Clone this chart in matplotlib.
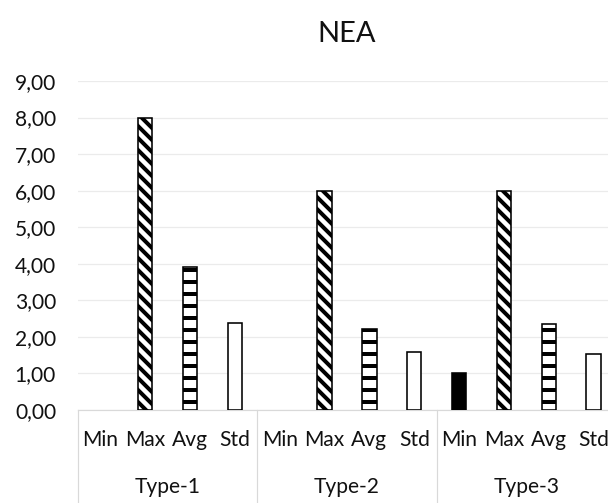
import matplotlib
matplotlib.use("Agg")
import matplotlib.pyplot as plt
from matplotlib.transforms import blended_transform_factory

plt.rcParams['font.family'] = ['Lato', 'DejaVu Sans']
plt.rcParams['hatch.linewidth'] = 4.0

groups = ["Type-1", "Type-2", "Type-3"]
stats = ["Min", "Max", "Avg", "Std"]
values = {
    "Type-1": [0.0, 8.0, 3.92, 2.38],
    "Type-2": [0.0, 6.0, 2.22, 1.58],
    "Type-3": [1.0, 6.0, 2.35, 1.53],
}
yticks = [0, 1, 2, 3, 4, 5, 6, 7, 8, 9]
ytick_labels = ["0,00", "1,00", "2,00", "3,00", "4,00", "5,00", "6,00", "7,00", "8,00", "9,00"]

styles = {
    "Min": dict(facecolor="black", hatch=None),
    "Max": dict(facecolor="white", hatch="\\\\"),
    "Avg": dict(facecolor="white", hatch="-"),
    "Std": dict(facecolor="white", hatch=None),
}

W, H, DPI = 608, 503, 72
fig = plt.figure(figsize=(W / DPI, H / DPI), dpi=DPI)
ax = fig.add_axes([78 / W, 1 - 410 / H, (616 - 78) / W, (410 - 81) / H])

xs, labels = [], []
i = 0
for g in groups:
    for s, v in zip(stats, values[g]):
        st = styles[s]
        if v > 0:
            ax.bar(i, v, width=0.32, facecolor=st["facecolor"], edgecolor="black",
                   linewidth=1.6, hatch=st["hatch"], zorder=3)
        xs.append(i)
        labels.append(s)
        i += 1

ax.set_xlim(-0.5, len(xs) - 0.5)
ax.set_ylim(0, 9)
ax.set_yticks(yticks)
ax.set_yticklabels(ytick_labels, fontsize=21, color="#111111")
ax.set_xticks(xs)
ax.set_xticklabels(labels, fontsize=21, color="#111111")
ax.tick_params(axis="both", length=0)
ax.tick_params(axis="y", pad=22)
ax.tick_params(axis="x", pad=20)
ax.grid(axis="y", color="#ebebeb", linewidth=1.2, zorder=0)
for sp in ["left", "right", "top"]:
    ax.spines[sp].set_visible(False)
ax.spines["bottom"].set_color("#d9d9d9")
ax.spines["bottom"].set_linewidth(1.2)

trans = blended_transform_factory(ax.transData, ax.transAxes)
n = len(stats)
for k in range(len(groups) + 1):
    xv = k * n - 0.5
    ax.plot([xv, xv], [0, -0.3], transform=trans, color="#d9d9d9", linewidth=1.2,
            clip_on=False, zorder=1)
for k, g in enumerate(groups):
    ax.text(k * n + (n - 1) / 2, -0.233, g, transform=trans, ha="center", va="center",
            fontsize=21, color="#111111")

fig.text((78 + 616) / 2 / W, 1 - 34 / H, "NEA", ha="center", va="center",
         fontsize=29, color="#111111")

fig.savefig("out.png", dpi=DPI)
